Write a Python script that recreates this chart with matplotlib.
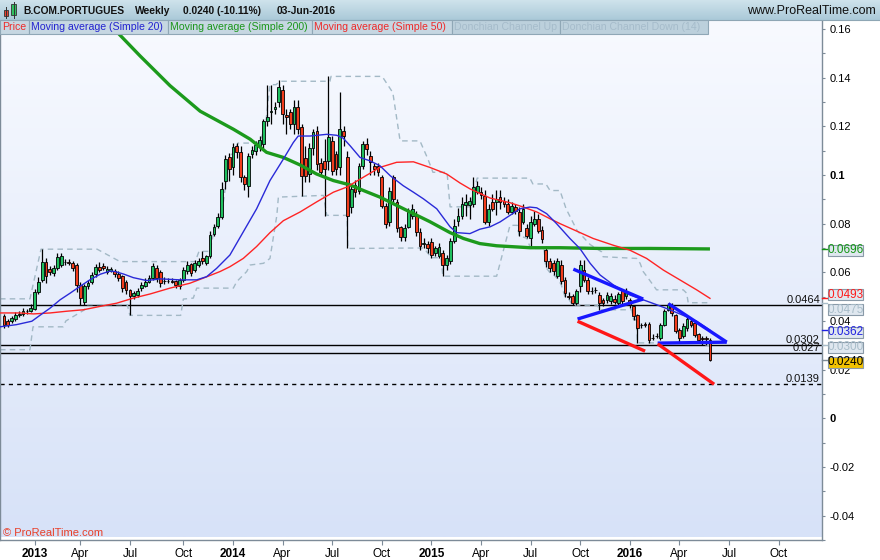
import datetime as dt
import numpy as np
import matplotlib
matplotlib.use('Agg')
import matplotlib.pyplot as plt
from matplotlib.patches import Rectangle
from matplotlib.colors import LinearSegmentedColormap
import matplotlib.transforms as mtransforms

plt.rcParams['font.family'] = ['Liberation Sans', 'DejaVu Sans']

# ---------------- data (weekly bars, Monday dated, last = week of 03-Jun-2016) -------------
last_week = dt.date(2016, 5, 30)

opens = [0.0419, 0.0399, 0.0399, 0.0410, 0.0425, 0.0428, 0.0440, 0.0440, 0.0449, 0.0520,
         0.0570, 0.0644, 0.0612, 0.0597, 0.0617, 0.0628, 0.0644, 0.0642, 0.0637, 0.0630,
         0.0548, 0.0480, 0.0542, 0.0562, 0.0592, 0.0620, 0.0627, 0.0603, 0.0605, 0.0606,
         0.0592, 0.0583, 0.0562, 0.0528, 0.0501, 0.0508, 0.0535, 0.0545, 0.0562, 0.0576,
         0.0616, 0.0600, 0.0565, 0.0563, 0.0563, 0.0563, 0.0543, 0.0567, 0.0604, 0.0633,
         0.0608, 0.0629, 0.0657, 0.0637, 0.0665, 0.0759, 0.0792, 0.0829, 0.0975, 0.1073,
         0.1033, 0.1118, 0.1094, 0.0992, 0.0955, 0.1086, 0.1098, 0.1118, 0.1127, 0.1220,
         0.1260, 0.1270, 0.1298, 0.1350, 0.1245, 0.1257, 0.1210, 0.1280, 0.1196, 0.1070,
         0.1004, 0.1110, 0.1180, 0.1049, 0.1057, 0.1057, 0.1140, 0.1086, 0.1033, 0.1180,
         0.1073, 0.0869, 0.0959, 0.0935, 0.1037, 0.1127, 0.1078, 0.1037, 0.1037, 0.0992,
         0.0873, 0.0808, 0.0992, 0.0890, 0.0788, 0.0747, 0.0788, 0.0833, 0.0833, 0.0767,
         0.0718, 0.0716, 0.0725, 0.0678, 0.0669, 0.0678, 0.0629, 0.0645, 0.0727, 0.0812,
         0.0833, 0.0878, 0.0878, 0.0882, 0.0930, 0.0930, 0.0914, 0.0808, 0.0890, 0.0890,
         0.0910, 0.0894, 0.0882, 0.0849, 0.0869, 0.0849, 0.0808, 0.0780, 0.0739, 0.0800,
         0.0820, 0.0775, 0.0690, 0.0645, 0.0637, 0.0584, 0.0629, 0.0567, 0.0504, 0.0502,
         0.0473, 0.0545, 0.0608, 0.0567, 0.0525, 0.0527, 0.0506, 0.0486, 0.0486, 0.0482,
         0.0491, 0.0473, 0.0522, 0.0502, 0.0486, 0.0461, 0.0424, 0.0382, 0.0388, 0.0388,
         0.0331, 0.0339, 0.0331, 0.0384, 0.0445, 0.0461, 0.0424, 0.0361, 0.0339, 0.0371,
         0.0399, 0.0392, 0.0347, 0.0328, 0.0328, 0.0320]
highs = [0.0430, 0.0410, 0.0420, 0.0435, 0.0440, 0.0455, 0.0450, 0.0470, 0.0530, 0.0580,
         0.0695, 0.0660, 0.0625, 0.0630, 0.0678, 0.0680, 0.0655, 0.0655, 0.0645, 0.0640,
         0.0560, 0.0550, 0.0570, 0.0600, 0.0635, 0.0644, 0.0640, 0.0625, 0.0620, 0.0615,
         0.0605, 0.0590, 0.0570, 0.0530, 0.0525, 0.0535, 0.0560, 0.0575, 0.0590, 0.0637,
         0.0630, 0.0610, 0.0580, 0.0575, 0.0575, 0.0570, 0.0575, 0.0620, 0.0645, 0.0640,
         0.0650, 0.0660, 0.0686, 0.0670, 0.0770, 0.0800, 0.0845, 0.0970, 0.1080, 0.1090,
         0.1130, 0.1130, 0.1120, 0.1000, 0.1090, 0.1120, 0.1140, 0.1160, 0.1230, 0.1370,
         0.1370, 0.1300, 0.1390, 0.1370, 0.1270, 0.1270, 0.1310, 0.1310, 0.1210, 0.1120,
         0.1130, 0.1190, 0.1200, 0.1070, 0.1147, 0.1406, 0.1160, 0.1100, 0.1339, 0.1200,
         0.1100, 0.0960, 0.0980, 0.1050, 0.1139, 0.1150, 0.1100, 0.1050, 0.1050, 0.1000,
         0.0885, 0.0950, 0.1000, 0.0900, 0.0790, 0.0800, 0.0865, 0.0880, 0.0850, 0.0780,
         0.0740, 0.0730, 0.0740, 0.0710, 0.0720, 0.0690, 0.0670, 0.0740, 0.0820, 0.0865,
         0.0910, 0.0920, 0.0910, 0.0992, 0.0975, 0.0950, 0.0940, 0.0880, 0.0920, 0.0939,
         0.0940, 0.0910, 0.0900, 0.0890, 0.0880, 0.0870, 0.0880, 0.0800, 0.0830, 0.0850,
         0.0840, 0.0790, 0.0710, 0.0660, 0.0650, 0.0660, 0.0650, 0.0580, 0.0520, 0.0510,
         0.0530, 0.0650, 0.0649, 0.0580, 0.0540, 0.0540, 0.0520, 0.0495, 0.0520, 0.0515,
         0.0505, 0.0520, 0.0530, 0.0535, 0.0495, 0.0465, 0.0430, 0.0390, 0.0395, 0.0395,
         0.0345, 0.0350, 0.0390, 0.0450, 0.0475, 0.0475, 0.0430, 0.0370, 0.0390, 0.0420,
         0.0410, 0.0400, 0.0350, 0.0340, 0.0340, 0.0328]
lows = [0.0370, 0.0375, 0.0390, 0.0400, 0.0415, 0.0420, 0.0430, 0.0435, 0.0445, 0.0510,
        0.0560, 0.0556, 0.0590, 0.0585, 0.0610, 0.0620, 0.0630, 0.0630, 0.0605, 0.0521,
        0.0467, 0.0467, 0.0530, 0.0550, 0.0580, 0.0600, 0.0610, 0.0595, 0.0600, 0.0580,
        0.0565, 0.0520, 0.0510, 0.0423, 0.0490, 0.0500, 0.0525, 0.0540, 0.0555, 0.0570,
        0.0560, 0.0540, 0.0550, 0.0555, 0.0555, 0.0535, 0.0530, 0.0560, 0.0595, 0.0585,
        0.0600, 0.0620, 0.0635, 0.0630, 0.0660, 0.0750, 0.0780, 0.0820, 0.0943, 0.0975,
        0.1000, 0.1070, 0.0970, 0.0940, 0.0910, 0.1070, 0.1080, 0.1100, 0.1110, 0.1200,
        0.1210, 0.1250, 0.1280, 0.1210, 0.1170, 0.1190, 0.1170, 0.1170, 0.0914, 0.0970,
        0.0970, 0.1080, 0.1020, 0.0995, 0.0833, 0.1020, 0.1000, 0.1000, 0.1000, 0.1120,
        0.0698, 0.0845, 0.0910, 0.0920, 0.1025, 0.1080, 0.1000, 0.1000, 0.0995, 0.0865,
        0.0780, 0.0790, 0.0890, 0.0765, 0.0730, 0.0730, 0.0780, 0.0820, 0.0750, 0.0690,
        0.0700, 0.0680, 0.0660, 0.0665, 0.0660, 0.0584, 0.0610, 0.0635, 0.0720, 0.0790,
        0.0820, 0.0830, 0.0820, 0.0870, 0.0920, 0.0900, 0.0800, 0.0790, 0.0850, 0.0835,
        0.0860, 0.0870, 0.0840, 0.0840, 0.0840, 0.0750, 0.0800, 0.0740, 0.0698, 0.0790,
        0.0760, 0.0720, 0.0620, 0.0600, 0.0590, 0.0575, 0.0550, 0.0500, 0.0490, 0.0465,
        0.0465, 0.0520, 0.0560, 0.0510, 0.0510, 0.0515, 0.0446, 0.0460, 0.0475, 0.0470,
        0.0470, 0.0465, 0.0470, 0.0490, 0.0455, 0.0405, 0.0310, 0.0370, 0.0375, 0.0310,
        0.0320, 0.0330, 0.0320, 0.0380, 0.0440, 0.0420, 0.0350, 0.0315, 0.0330, 0.0360,
        0.0375, 0.0335, 0.0315, 0.0300, 0.0300, 0.0235]
closes = [0.0385, 0.0385, 0.0412, 0.0423, 0.0427, 0.0442, 0.0441, 0.0455, 0.0521, 0.0562,
          0.0644, 0.0583, 0.0603, 0.0617, 0.0664, 0.0667, 0.0643, 0.0640, 0.0617, 0.0548,
          0.0494, 0.0542, 0.0555, 0.0590, 0.0620, 0.0610, 0.0618, 0.0612, 0.0612, 0.0592,
          0.0576, 0.0535, 0.0528, 0.0501, 0.0514, 0.0524, 0.0548, 0.0562, 0.0578, 0.0624,
          0.0576, 0.0555, 0.0563, 0.0563, 0.0562, 0.0547, 0.0567, 0.0608, 0.0628, 0.0596,
          0.0637, 0.0645, 0.0645, 0.0665, 0.0755, 0.0788, 0.0829, 0.0943, 0.1065, 0.1024,
          0.1114, 0.1094, 0.0992, 0.0963, 0.1078, 0.1102, 0.1122, 0.1143, 0.1220, 0.1240,
          0.1261, 0.1280, 0.1363, 0.1250, 0.1240, 0.1210, 0.1280, 0.1188, 0.0996, 0.0996,
          0.1110, 0.1176, 0.1045, 0.1012, 0.1024, 0.1155, 0.1018, 0.1024, 0.1188, 0.1160,
          0.0833, 0.0943, 0.0930, 0.1037, 0.1127, 0.1106, 0.1053, 0.1024, 0.1012, 0.0873,
          0.0800, 0.0935, 0.0902, 0.0780, 0.0747, 0.0784, 0.0849, 0.0860, 0.0767, 0.0710,
          0.0722, 0.0698, 0.0671, 0.0698, 0.0706, 0.0629, 0.0657, 0.0727, 0.0792, 0.0833,
          0.0882, 0.0890, 0.0894, 0.0951, 0.0955, 0.0918, 0.0808, 0.0861, 0.0861, 0.0902,
          0.0890, 0.0882, 0.0849, 0.0873, 0.0853, 0.0771, 0.0861, 0.0751, 0.0808, 0.0820,
          0.0771, 0.0735, 0.0645, 0.0616, 0.0604, 0.0645, 0.0563, 0.0514, 0.0500, 0.0473,
          0.0522, 0.0630, 0.0567, 0.0522, 0.0522, 0.0528, 0.0473, 0.0473, 0.0506, 0.0502,
          0.0478, 0.0510, 0.0482, 0.0522, 0.0465, 0.0420, 0.0371, 0.0384, 0.0384, 0.0322,
          0.0331, 0.0339, 0.0384, 0.0441, 0.0467, 0.0433, 0.0359, 0.0331, 0.0380, 0.0408,
          0.0384, 0.0343, 0.0322, 0.0327, 0.0327, 0.0240]

# Indicator lines: (week index, value)
ma20_week = [-1.05, 3.3, 7.3, 9.4, 12.1, 14.7, 17.3, 19.9, 22.5, 25.2, 27.8, 29.1, 31.3, 33.9,
             37.4, 40.9, 46.1, 50.5, 53.1, 55.7, 59.2, 62.7, 66.2, 69.7, 73.2, 75.8, 77.1, 80.2,
             84.6, 87.2, 88.9, 90.7, 93.3, 95.9, 98.5, 101.2, 104.6, 107.3, 109.9, 113.4, 116.9,
             118.6, 122.1, 124.7, 127.4, 130.0, 132.6, 135.2, 137.8, 139.6, 142.2, 144.8, 148.3,
             150.9, 153.6, 156.2, 159.7, 164.0, 167.5, 171.0, 174.5, 178.0, 181.5, 185]
ma20_val = [0.0376, 0.0385, 0.0399, 0.0423, 0.0453, 0.0487, 0.0514, 0.0542, 0.0569, 0.0592,
            0.0605, 0.0603, 0.0593, 0.0578, 0.0566, 0.0573, 0.0569, 0.0569, 0.0582, 0.0616,
            0.0671, 0.0766, 0.0861, 0.0977, 0.1065, 0.1133, 0.1160, 0.1160, 0.1167, 0.1163,
            0.1151, 0.1120, 0.1072, 0.1058, 0.1038, 0.0997, 0.0956, 0.0929, 0.0902, 0.0861,
            0.0787, 0.0763, 0.0759, 0.0777, 0.0787, 0.0807, 0.0834, 0.0861, 0.0868, 0.0865,
            0.0841, 0.0800, 0.0739, 0.0698, 0.0637, 0.0589, 0.0548, 0.0507, 0.0487, 0.0467,
            0.0446, 0.0423, 0.0399, 0.0362]
ma50_week = [-1.05, 4.2, 7.7, 12.1, 16.4, 20.8, 25.2, 29.5, 33.9, 38.3, 43.5, 48.7, 52.2, 56.6,
             59.2, 62.7, 66.2, 69.7, 73.2, 77.6, 81.9, 86.3, 89.8, 94.2, 98.5, 102.9, 107.3,
             111.6, 116.0, 119.5, 122.1, 127.4, 132.6, 136.1, 139.6, 143.1, 145.7, 154.4, 159.7,
             164.0, 168.4, 172.8, 177.1, 181.5, 185]
ma50_val = [0.0433, 0.0433, 0.0429, 0.0433, 0.0440, 0.0446, 0.0460, 0.0473, 0.0494, 0.0511,
            0.0535, 0.0555, 0.0576, 0.0603, 0.0623, 0.0657, 0.0706, 0.0763, 0.0812, 0.0848,
            0.0889, 0.0929, 0.0950, 0.0991, 0.1031, 0.1052, 0.1054, 0.1031, 0.1004, 0.0967,
            0.0943, 0.0905, 0.0886, 0.0868, 0.0848, 0.0820, 0.0800, 0.0739, 0.0711, 0.0691,
            0.0657, 0.0609, 0.0569, 0.0528, 0.0493]
ma200_week = [25.2, 28.6, 35.6, 43.5, 51.4, 60.1, 64.5, 68.8, 73.2, 77.6, 81.9, 86.3, 90.7,
              94.2, 98.5, 102.9, 107.3, 111.6, 116.9, 120.4, 124.7, 129.1, 133.5, 137.8,
              145.7, 156.2, 169.3, 185]
ma200_val = [0.1669, 0.1604, 0.1490, 0.1367, 0.1262, 0.1188, 0.1147, 0.1093, 0.1072, 0.1041,
             0.1004, 0.0977, 0.0959, 0.0936, 0.0909, 0.0875, 0.0841, 0.0808, 0.0763, 0.0739,
             0.0718, 0.0709, 0.0705, 0.0701, 0.0701, 0.0698, 0.0698, 0.0696]
don_up_week = [-1.05, 6.8, 9.7, 24.4, 30.4, 50.1, 51.1, 54.0, 55.0, 56.1, 57.1, 58.2, 59.2,
               60.3, 61.3, 66.6, 67.6, 68.7, 69.7, 71.3, 72.3, 85.4, 85.7, 99.1, 101.9, 103.8,
               109.0, 111.1, 112.4, 116.1, 116.9, 122.1, 124.0, 137.8, 138.6, 142.0, 143.1,
               145.7, 147.3, 150.2, 153.6, 156.6, 157.0, 165.8, 166.7, 167.5, 168.8, 171.0,
               178.0, 178.9, 179.3, 185]
don_up_val = [0.0491, 0.0491, 0.0695, 0.0695, 0.0644, 0.0644, 0.0686, 0.0686, 0.0771, 0.0800,
              0.0845, 0.0971, 0.1078, 0.1094, 0.1131, 0.1131, 0.1159, 0.1229, 0.1371, 0.1371,
              0.1385, 0.1385, 0.1405, 0.1405, 0.1338, 0.1140, 0.1140, 0.1065, 0.1011, 0.1011,
              0.0869, 0.0869, 0.0987, 0.0987, 0.0963, 0.0963, 0.0936, 0.0936, 0.0861, 0.0771,
              0.0714, 0.0684, 0.0664, 0.0657, 0.0637, 0.0603, 0.0576, 0.0528, 0.0528, 0.0514,
              0.0475, 0.0475]
don_dn_week = [-1.05, 6.8, 7.6, 15.5, 16.2, 21, 22, 32.3, 33, 46.3, 47, 49.6, 50.5, 60.1, 61,
               63.6, 64.5, 68, 69.7, 71.5, 71.9, 83.7, 84.6, 89.9, 90.1, 110, 111, 112, 114.5,
               115, 129.1, 132.6, 134.5, 135, 137, 138, 141.5, 142, 143, 144, 145, 146, 147,
               148, 149, 155.5, 156, 164.5, 165, 165.7, 166, 182.5, 183, 185]
don_dn_val = [0.0282, 0.0282, 0.0376, 0.0376, 0.0400, 0.0445, 0.0467, 0.0467, 0.0423, 0.0423,
              0.0490, 0.0494, 0.0535, 0.0535, 0.0562, 0.0603, 0.0630, 0.0637, 0.0657, 0.0834,
              0.0909, 0.0916, 0.0834, 0.0834, 0.0698, 0.0700, 0.0680, 0.0660, 0.0660, 0.0584,
              0.0584, 0.0793, 0.0793, 0.0750, 0.0740, 0.0698, 0.0698, 0.0620, 0.0600, 0.0590,
              0.0575, 0.0550, 0.0500, 0.0490, 0.0465, 0.0465, 0.0446, 0.0446, 0.0405, 0.0405,
              0.0310, 0.0310, 0.0300, 0.0300]

# hand-drawn trend lines: (week index, value) pairs
trend_blue = [[(149.2, 0.0613), (167.5, 0.0490)],
              [(150.3, 0.0408), (167.5, 0.0490)],
              [(174.1, 0.0471), (189.4, 0.0313)],
              [(171.3, 0.0309), (189.4, 0.0313)]]
trend_red = [[(150.3, 0.0399), (168.0, 0.0276)],
             [(171.3, 0.0306), (186.1, 0.0140)]]

hlines_solid = [0.0464, 0.0302, 0.027]
hline_labels = ['0.0464', '0.0302', '0.027']
hline_dashed = 0.0139

yticks = [0.16, 0.14, 0.12, 0.1, 0.08, 0.06, 0.04, 0.02, 0, -0.02, -0.04]
ytick_labels = ['0.16', '0.14', '0.12', '0.1', '0.08', '0.06', '0.04', '0.02', '0', '-0.02', '-0.04']

value_tags = [0.0696, 0.0493, 0.0475, 0.0362, 0.0300, 0.0240]
value_tag_text = ['0.0696', '0.0493', '0.0475', '0.0362', '0.0300', '0.0240']
value_tag_color = ['#139613', '#ff1a1a', '#a9bdc9', '#2020e0', '#a9bdc9', '#000000']
value_tag_bg = ['#dfe7ef', '#dfe7ef', '#dfe7ef', '#dfe7ef', '#dfe7ef', '#f2c200']

# ---------------- figure ----------------
W, H = 880, 560
fig = plt.figure(figsize=(W / 100, H / 100), dpi=100)
fig.patch.set_facecolor('white')

def fx(px):
    return px / W

def fy(py):
    return 1 - py / H

PL, PR, PT, PB = 0, 822, 20, 540
ax = fig.add_axes([fx(PL), fy(PB), fx(PR - PL), (PB - PT) / H])
n = len(closes)
week_dates = [last_week - dt.timedelta(weeks=n - 1 - i) for i in range(n)]
xmin = -(4 / 3.816)
xmax = (PR - 4) / 3.816
ymax = (421 - PT) / 2450
ymin = (421 - PB) / 2450
ax.set_xlim(xmin, xmax)
ax.set_ylim(ymin, ymax)
px_per_unit = (PB - PT) / (ymax - ymin)

# background gradient
grad = LinearSegmentedColormap.from_list('bg', ['#f8faff', '#d7e2f8'])
ax.imshow(np.linspace(0, 1, 256).reshape(-1, 1), cmap=grad, aspect='auto',
          extent=[xmin, xmax, ymin, ymax], origin='upper', zorder=0)

# horizontal levels
blend = mtransforms.blended_transform_factory(ax.transAxes, ax.transData)
for lv, lb in zip(hlines_solid, hline_labels):
    ax.axhline(lv, color='black', lw=1.0, zorder=2)
    ax.annotate(lb, xy=(1, lv), xycoords=blend, xytext=(-1.5, 0.0), textcoords='offset points',
                ha='right', va='bottom', fontsize=8, color='#111111', zorder=6)
ax.axhline(hline_dashed, color='black', lw=1.0, ls=(0, (3, 3)), zorder=2)
ax.annotate('0.0139', xy=(1, hline_dashed), xycoords=blend, xytext=(-1.5, 0.0),
            textcoords='offset points', ha='right', va='bottom', fontsize=8, color='#111111', zorder=6)

# donchian channel
dcol = '#a3b9c6'
ax.plot(don_up_week, don_up_val, color=dcol, lw=1.0, ls=(0, (4, 3)), zorder=2.5)
ax.plot(don_dn_week, don_dn_val, color=dcol, lw=1.0, ls=(0, (4, 3)), zorder=2.5)

# candles
idx = np.arange(n)
o = np.array(opens); h = np.array(highs); l = np.array(lows); c = np.array(closes)
ax.vlines(idx, l, h, color='black', lw=0.9, zorder=3)
up = c >= o
bot = np.minimum(o, c)
hgt = np.maximum(np.abs(c - o), 0.00005)
ax.bar(idx[up], hgt[up], bottom=bot[up], width=0.72, color='#1fbf5e', edgecolor='black',
       linewidth=0.6, zorder=3.2)
ax.bar(idx[~up], hgt[~up], bottom=bot[~up], width=0.72, color='#f23c1c', edgecolor='black',
       linewidth=0.6, zorder=3.2)

# moving averages
ax.plot(ma200_week, ma200_val, color='#1c9a1c', lw=2.4, zorder=4, solid_capstyle='butt')
ax.plot(ma50_week, ma50_val, color='#ff2424', lw=1.0, zorder=4.1)
ax.plot(ma20_week, ma20_val, color='#2a2ad8', lw=1.0, zorder=4.2)

# trend lines
for seg in trend_blue:
    ax.plot([p[0] for p in seg], [p[1] for p in seg], color='#1717ff', lw=2.4, zorder=5,
            solid_capstyle='butt')
for seg in trend_red:
    ax.plot([p[0] for p in seg], [p[1] for p in seg], color='#ff1717', lw=2.4, zorder=5,
            solid_capstyle='butt')

# axes styling
ax.spines['top'].set_visible(False)
for s in ['left', 'right', 'bottom']:
    ax.spines[s].set_color('#7d8b98')
    ax.spines[s].set_linewidth(1.0)
ax.yaxis.tick_right()
ax.set_yticks(yticks)
ylbls = ax.set_yticklabels(ytick_labels)
for t in ylbls:
    if t.get_text() in ('0.1', '0'):
        t.set_fontweight('bold')
ax.set_yticks([v / 100 for v in range(-5, 17, 1)], minor=True)
ax.tick_params(axis='y', which='both', direction='out', length=2.5, width=0.8, color='#7d8b98',
               labelsize=8, pad=3)

# quarter ticks: first weekly bar of each quarter month
tick_pos, tick_lbl = [], []
for yr in range(2013, 2017):
    for mo in (1, 4, 7, 10):
        start = dt.date(yr, mo, 1)
        days = (start - week_dates[0]).days
        k = -(-days // 7)
        tick_pos.append(k)
        tick_lbl.append(str(yr) if mo == 1 else start.strftime('%b'))
ax.set_xticks(tick_pos)
xl = ax.set_xticklabels(tick_lbl)
for t in xl:
    if t.get_text().isdigit():
        t.set_fontweight('bold')
        t.set_fontsize(9)
ax.tick_params(axis='x', direction='out', length=3.5, width=0.8, color='#7d8b98', labelsize=8.5, pad=2.5)

# ---------- header ----------
hax = fig.add_axes([0, fy(20), 1, 20 / H])
hgrad = LinearSegmentedColormap.from_list('hb', ['#cfe3ec', '#aac9d8'])
hax.imshow(np.linspace(0, 1, 64).reshape(-1, 1), cmap=hgrad, aspect='auto', extent=[0, 1, 0, 1])
hax.set_xlim(0, 1); hax.set_ylim(0, 1)
hax.axis('off')
fig.add_artist(plt.Line2D([0, 1], [fy(20), fy(20)], transform=fig.transFigure, color='#8ea6b4', lw=0.8))

# icon
fig.add_artist(plt.Line2D([fx(5.8), fx(5.8)], [fy(7), fy(18)], transform=fig.transFigure, color='#333333', lw=0.7))
fig.add_artist(Rectangle((fx(3.5), fy(16)), fx(4.6), 6 / H, transform=fig.transFigure,
                         facecolor='#e84030', edgecolor='#333333', lw=0.6))
fig.add_artist(plt.Line2D([fx(13.5), fx(13.5)], [fy(2), fy(18)], transform=fig.transFigure, color='#333333', lw=0.7))
fig.add_artist(Rectangle((fx(11.2), fy(15)), fx(4.6), 11 / H, transform=fig.transFigure,
                         facecolor='#30c060', edgecolor='#333333', lw=0.6))

header_parts = [('B.COM.PORTUGUES', 23), ('Weekly', 135), ('0.0240 (-10.11%)', 183), ('03-Jun-2016', 277)]
for txt, x0 in header_parts:
    fig.text(fx(x0), fy(10.5), txt, fontsize=7.4, fontweight='bold', color='#111111',
             va='center', ha='left')
fig.text(fx(876), fy(11), 'www.ProRealTime.com', fontsize=9.0, color='#111111', va='center', ha='right')

# legend row
legend_items = [('Price', '#ee2a2a', 0, 29.3, '#c6d7e2'),
                ('Moving average (Simple 20)', '#2323d0', 29.3, 168.3, '#c6d7e2'),
                ('Moving average (Simple 200)', '#1b961b', 168.3, 312.3, '#c6d7e2'),
                ('Moving average (Simple 50)', '#ee2a2a', 312.3, 451.7, '#c6d7e2'),
                ('Donchian Channel Up', '#a6bccb', 451.7, 560.0, '#bcd0dc'),
                ('Donchian Channel Down (14)', '#a6bccb', 560.0, 708.3, '#bcd0dc')]
for txt, col, x0, x1, bg in legend_items:
    fig.add_artist(Rectangle((fx(x0), fy(33.5)), fx(x1 - x0), 13 / H, transform=fig.transFigure,
                             facecolor=bg, edgecolor='#8fa7b6', lw=0.8, zorder=10))
    fig.text(fx(x0 + 2), fy(27.2), txt, fontsize=7.6, color=col, va='center', ha='left', zorder=11)

# value tags on right axis, spread apart where they would overlap
tag_px = 11.0
min_gap = 15.0
order = sorted(range(len(value_tags)), key=lambda k: -value_tags[k])
centers = {k: (ymax - value_tags[k]) * px_per_unit + PT for k in order}
for _ in range(50):
    moved = False
    for a_, b_ in zip(order[:-1], order[1:]):
        d = centers[b_] - centers[a_]
        if d < min_gap - 0.01:
            push = (min_gap - d) / 2
            centers[a_] -= push
            centers[b_] += push
            moved = True
    if not moved:
        break

tb = mtransforms.blended_transform_factory(fig.transFigure, ax.transData)
for k in order:
    v = value_tags[k]
    col = value_tag_color[k]
    fig.add_artist(plt.Line2D([fx(822), fx(827)], [v, v], transform=tb,
                              color=col if col != '#000000' else '#7d8b98', lw=1.0, zorder=9))
    cy = centers[k]
    fig.add_artist(Rectangle((fx(827.7), fy(cy + tag_px / 2)), fx(35.6), tag_px / H,
                             transform=fig.transFigure, facecolor=value_tag_bg[k],
                             edgecolor='#8a9aa8', lw=0.8, zorder=10))
    fig.text(fx(845.5), fy(cy), value_tag_text[k], fontsize=8.5, color=col, va='center',
             ha='center', zorder=11)

# copyright
fig.text(fx(3), fy(533.5), '\u00a9 ProRealTime.com', fontsize=8, color='#e8402a', va='center', ha='left')

fig.savefig('out.png', dpi=100)
